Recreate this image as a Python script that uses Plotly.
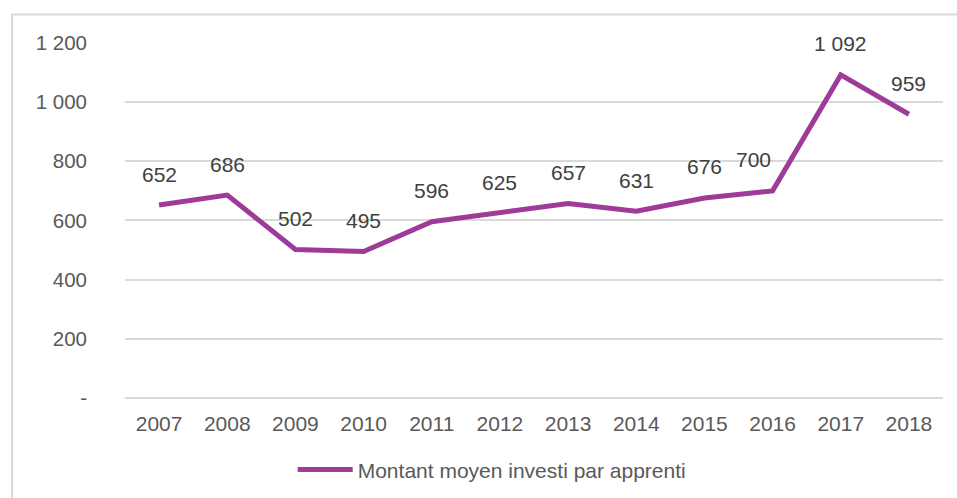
import plotly.graph_objects as go

years = ["2007", "2008", "2009", "2010", "2011", "2012", "2013", "2014", "2015", "2016", "2017", "2018"]
values = [652, 686, 502, 495, 596, 625, 657, 631, 676, 700, 1092, 959]
series_name = "Montant moyen investi par apprenti"
y_tickvals = [0, 200, 400, 600, 800, 1000, 1200]
y_ticktext = ["-", "200", "400", "600", "800", "1 000", "1 200"]

LINE_COLOR = "#9E3A98"
TEXT_COLOR = "#595959"
GRID_COLOR = "#d9d9d9"
FONT = "Liberation Sans, Arial, sans-serif"

def fmt(v):
    return f"{v:,}".replace(",", " ")

fig = go.Figure()
fig.add_trace(go.Scatter(
    x=years, y=values, mode="lines", name=series_name,
    line=dict(color=LINE_COLOR, width=5),
    hoverinfo="x+y",
))

annotations = []
for i, (yr, v) in enumerate(zip(years, values)):
    xshift = -19 if yr == "2016" else 0
    annotations.append(dict(
        x=i, y=v, xref="x", yref="y", text=fmt(v), showarrow=False,
        yshift=31, xshift=xshift, font=dict(size=21, color="#404040", family=FONT),
    ))

fig.update_layout(
    width=957, height=498,
    margin=dict(l=125, r=14, t=43, b=98, autoexpand=False),
    paper_bgcolor="white", plot_bgcolor="white",
    font=dict(family=FONT, size=21, color=TEXT_COLOR),
    showlegend=True,
    legend=dict(orientation="h", x=0.205, xanchor="left", y=-0.196, yanchor="middle",
                font=dict(size=21, color=TEXT_COLOR), itemwidth=55),
    annotations=annotations,
    shapes=[dict(type="rect", xref="paper", yref="paper",
                 x0=-0.138, x1=1.2, y0=-0.4, y1=1.08,
                 line=dict(color=GRID_COLOR, width=2), fillcolor="rgba(0,0,0,0)", layer="below")],
)
fig.update_xaxes(type="category", range=[-0.5, 11.5], showgrid=False, showline=False,
                 zeroline=False, ticks="", ticklabelstandoff=9,
                 tickfont=dict(size=21, color=TEXT_COLOR))
fig.update_yaxes(range=[-7, 1200], tickvals=y_tickvals, ticktext=y_ticktext,
                 showgrid=True, gridcolor=GRID_COLOR, gridwidth=1.5, zeroline=False,
                 showline=False, ticks="", ticklabelstandoff=37,
                 tickfont=dict(size=20.5, color=TEXT_COLOR))

fig.write_html("out.html", config={"displayModeBar": False},
               post_script="document.body.style.margin='0';")
